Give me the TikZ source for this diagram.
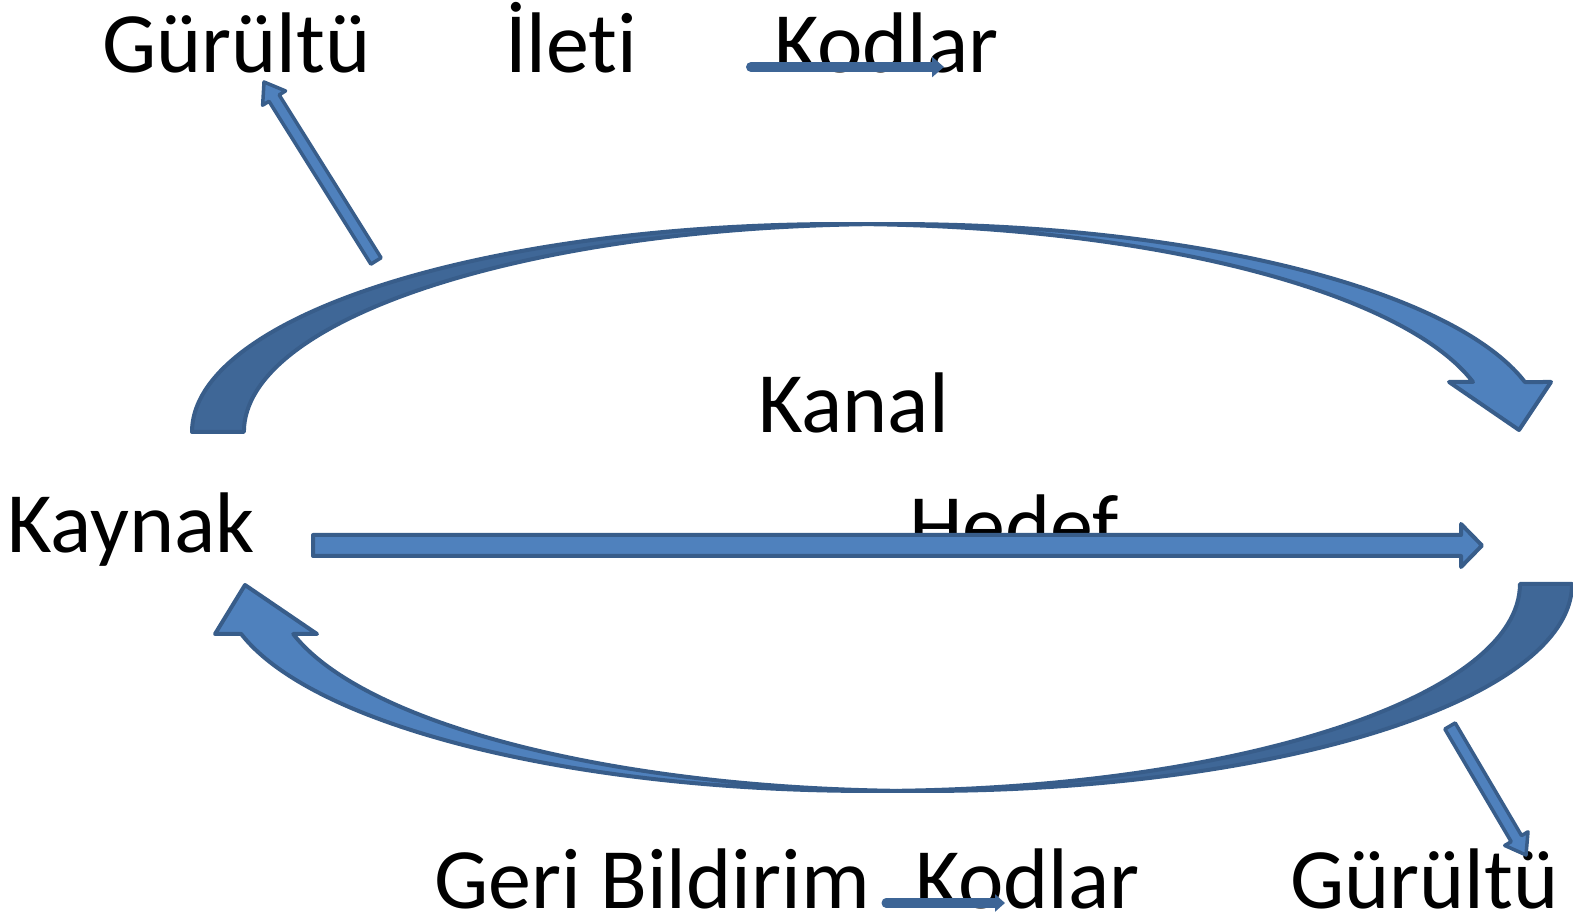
\documentclass[tikz,border=0pt]{standalone}
\usepackage{fontspec}
\setmainfont{Carlito}[RawFeature={-liga;-dlig;-clig}]
\usetikzlibrary{calc,arrows.meta}
\definecolor{frontblue}{HTML}{4F81BD}
\definecolor{backblue}{HTML}{3F6797}
\definecolor{edgeblue}{HTML}{385D8A}
\definecolor{codeblue}{HTML}{3D6596}
\tikzset{
  lbl/.style={anchor=base west, inner sep=0pt, font=\fontsize{86}{100}\selectfont},
  frontpart/.style={fill=frontblue, draw=edgeblue, line width=4pt, line join=round},
  backpart/.style={fill=backblue, draw=edgeblue, line width=4pt, line join=round},
  blockarr/.style={fill=frontblue, draw=edgeblue, line width=3.5pt, line join=round},
  codearr/.style={draw=codeblue, line width=10pt, line cap=round, -{Triangle[length=12pt,width=20pt]}},
  codearrsmall/.style={draw=codeblue, line width=9pt, line cap=round, -{Triangle[length=10pt,width=17pt]}},
}
% #1 style, #2 tail, #3 tip, #4 shaft half width, #5 head half width, #6 head length
\newcommand{\blockarrow}[6]{%
  \coordinate (bah) at ($(#3)!#6!(#2)$);
  \draw[#1] ($(#2)!#4!90:(#3)$) -- ($(bah)!#4!-90:(#2)$) -- ($(bah)!#5!-90:(#2)$) -- (#3)
     -- ($(bah)!#5!90:(#2)$) -- ($(bah)!#4!90:(#2)$) -- ($(#2)!#4!-90:(#3)$) -- cycle;}
\begin{document}
\begin{tikzpicture}[x=1pt,y=1pt]
\useasboundingbox (0,0) rectangle (1573,923);
% texts
\node[lbl] (gurtop) at (102,850) {Gürültü};
\node[lbl] (ileti) at (505,850) {İleti};
\node[lbl] (kodtop) at (774,850) {Kodlar};
\node[lbl] (kanal) at (758,490) {Kanal};
\node[lbl] (kaynak) at (7,370) {Kaynak};
\node[lbl] (hedef) at (909,368) {Hedef};
\node[lbl] (geri) at (434,15) {Geri Bildirim};
\node[lbl] (kodbot) at (915,15) {Kodlar};
\node[lbl] (gurbot) at (1290,15) {Gürültü};
% top curved arrow (Kaynak -> Hedef over the top)
\draw[backpart] (192,491) arc[start angle=180, end angle=87.71, x radius=650pt, y radius=208pt]
   arc[start angle=92.29, end angle=180, x radius=650pt, y radius=208pt] -- cycle;
\draw[frontpart] (868,698.8) arc[start angle=92.29, end angle=13.91, x radius=650pt, y radius=208pt]
   -- (1551,541) -- (1519,493) -- (1449,541) -- (1473,541)
   arc[start angle=13.91, end angle=87.71, x radius=650pt, y radius=208pt] -- cycle;
% bottom curved arrow (Hedef -> Kaynak under the bottom)
\draw[backpart] (1572,339) arc[start angle=0, end angle=-92.30, x radius=649pt, y radius=207pt]
   arc[start angle=-87.70, end angle=0, x radius=649pt, y radius=207pt] -- cycle;
\draw[frontpart] (897,132.2) arc[start angle=272.30, end angle=193.97, x radius=649pt, y radius=207pt]
   -- (215,289) -- (245,338) -- (317,289) -- (293.2,289)
   arc[start angle=193.97, end angle=267.70, x radius=649pt, y radius=207pt] -- cycle;
% straight arrow
\coordinate (sa1) at (313,377.5);
\coordinate (sa2) at (1482,377.5);
\blockarrow{frontpart}{sa1}{sa2}{10.5pt}{21.5pt}{21pt}
% noise arrows
\coordinate (n1a) at (376,662);
\coordinate (n1b) at (264,841);
\blockarrow{blockarr}{n1a}{n1b}{6pt}{13.5pt}{19pt}
\coordinate (n2a) at (1450,197);
\coordinate (n2b) at (1526,68);
\blockarrow{blockarr}{n2a}{n2b}{6pt}{13.5pt}{19pt}
% code arrows
\coordinate (k1a) at (751,856);
\coordinate (k1b) at (944,856);
\draw[codearr] (k1a) -- (k1b);
\coordinate (k2a) at (886,20);
\coordinate (k2b) at (1005,20);
\draw[codearrsmall] (k2a) -- (k2b);
\end{tikzpicture}
\end{document}
